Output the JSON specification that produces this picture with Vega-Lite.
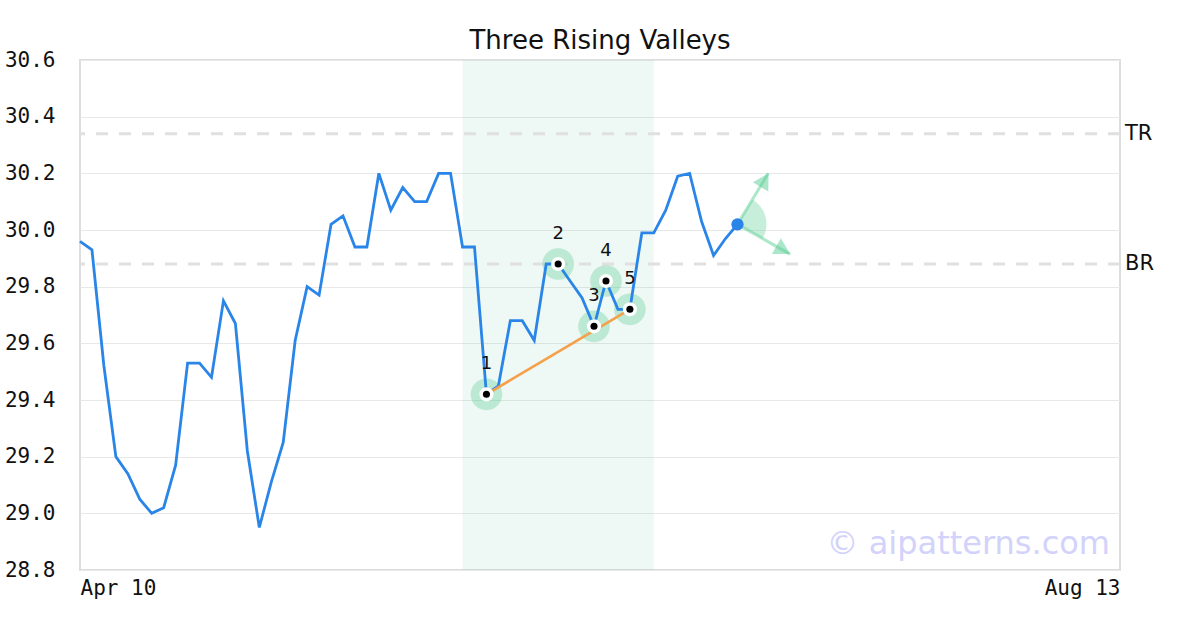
{
  "$schema": "https://vega.github.io/schema/vega-lite/v6.json",
  "width": 1040,
  "height": 510,
  "autosize": {"type": "none"},
  "padding": {"left": 80, "top": 60, "right": 80, "bottom": 60},
  "background": "white",
  "title": {"text": "Three Rising Valleys", "font": "DejaVu Sans", "fontSize": 26, "fontWeight": "normal", "color": "#111111", "anchor": "middle", "frame": "group", "offset": -5},
  "config": {
    "view": {"stroke": "#dddddd", "strokeWidth": 2},
    "axis": {"labelFont": "DejaVu Sans Mono", "labelFontSize": 21, "labelColor": "#111111", "domain": false, "ticks": false, "tickSize": 0, "title": null}
  },
  "datasets": {
    "price": [
      {"i": 0, "v": 29.96}, {"i": 1, "v": 29.93}, {"i": 2, "v": 29.52}, {"i": 3, "v": 29.20},
      {"i": 4, "v": 29.14}, {"i": 5, "v": 29.05}, {"i": 6, "v": 29.00}, {"i": 7, "v": 29.02},
      {"i": 8, "v": 29.17}, {"i": 9, "v": 29.53}, {"i": 10, "v": 29.53}, {"i": 11, "v": 29.48},
      {"i": 12, "v": 29.75}, {"i": 13, "v": 29.67}, {"i": 14, "v": 29.22}, {"i": 15, "v": 28.95},
      {"i": 16, "v": 29.11}, {"i": 17, "v": 29.25}, {"i": 18, "v": 29.61}, {"i": 19, "v": 29.80},
      {"i": 20, "v": 29.77}, {"i": 21, "v": 30.02}, {"i": 22, "v": 30.05}, {"i": 23, "v": 29.94},
      {"i": 24, "v": 29.94}, {"i": 25, "v": 30.20}, {"i": 26, "v": 30.07}, {"i": 27, "v": 30.15},
      {"i": 28, "v": 30.10}, {"i": 29, "v": 30.10}, {"i": 30, "v": 30.20}, {"i": 31, "v": 30.20},
      {"i": 32, "v": 29.94}, {"i": 33, "v": 29.94}, {"i": 34, "v": 29.42}, {"i": 35, "v": 29.45},
      {"i": 36, "v": 29.68}, {"i": 37, "v": 29.68}, {"i": 38, "v": 29.61}, {"i": 39, "v": 29.88},
      {"i": 40, "v": 29.88}, {"i": 41, "v": 29.82}, {"i": 42, "v": 29.76}, {"i": 43, "v": 29.66},
      {"i": 44, "v": 29.82}, {"i": 45, "v": 29.72}, {"i": 46, "v": 29.72}, {"i": 47, "v": 29.99},
      {"i": 48, "v": 29.99}, {"i": 49, "v": 30.07}, {"i": 50, "v": 30.19}, {"i": 51, "v": 30.20},
      {"i": 52, "v": 30.03}, {"i": 53, "v": 29.91}, {"i": 54, "v": 29.97}, {"i": 55, "v": 30.02}
    ],
    "pivots": [
      {"i": 34, "v": 29.42, "label": "1"},
      {"i": 40, "v": 29.88, "label": "2"},
      {"i": 43, "v": 29.66, "label": "3"},
      {"i": 44, "v": 29.82, "label": "4"},
      {"i": 46, "v": 29.72, "label": "5"}
    ],
    "trend": [{"i": 34, "v": 29.42}, {"i": 46, "v": 29.72}],
    "levels": [{"name": "TR", "v": 30.34, "xend": 87}, {"name": "BR", "v": 29.88, "xend": 87}],
    "zone": [{"start": 32, "end": 48}],
    "last": [{"i": 55, "v": 30.02}],
    "arrows": [
      {"i": 55, "v": 30.02, "i2": 57.57, "v2": 30.20, "hi": 57.25, "hv": 30.175, "ang": 31},
      {"i": 55, "v": 30.02, "i2": 59.4, "v2": 29.915, "hi": 58.8, "hv": 29.93, "ang": 119.5}
    ],
    "mark": [{"i": 87, "v": 28.8, "text": "© aipatterns.com"}]
  },
  "layer": [
    {
      "data": {"name": "zone"},
      "mark": {"type": "rect", "color": "#5cbf8f", "opacity": 0.1},
      "encoding": {
        "x": {"field": "start", "type": "quantitative", "scale": {"domain": [0, 87], "nice": false, "zero": false},
              "axis": {"values": [0, 87], "grid": false, "labelExpr": "datum.value == 0 ? 'Apr 10' : 'Aug 13'", "labelPadding": 7,
                       "labelAlign": {"condition": {"test": "datum.value == 0", "value": "left"}, "value": "right"}}},
        "x2": {"field": "end"}
      }
    },
    {
      "data": {"name": "levels"},
      "mark": {"type": "rule", "color": "#e0e0e0", "strokeWidth": 3, "strokeDash": [12, 11]},
      "encoding": {
        "y": {"field": "v", "type": "quantitative", "scale": {"domain": [28.8, 30.6], "nice": false, "zero": false},
              "axis": {"values": [28.8, 29.0, 29.2, 29.4, 29.6, 29.8, 30.0, 30.2, 30.4, 30.6], "format": ".1f", "grid": true, "gridColor": "#e8e8e8", "gridWidth": 1, "labelPadding": 25}}
      }
    },
    {
      "data": {"name": "levels"},
      "mark": {"type": "text", "align": "left", "baseline": "middle", "dx": 5, "font": "DejaVu Sans", "fontSize": 21, "color": "#111111"},
      "encoding": {
        "x": {"field": "xend", "type": "quantitative"},
        "y": {"field": "v", "type": "quantitative"},
        "text": {"field": "name"}
      }
    },
    {
      "data": {"name": "pivots"},
      "mark": {"type": "point", "shape": "circle", "filled": true, "color": "#5ccf96", "opacity": 0.35, "size": 1000},
      "encoding": {
        "x": {"field": "i", "type": "quantitative"},
        "y": {"field": "v", "type": "quantitative"}
      }
    },
    {
      "data": {"name": "price"},
      "mark": {"type": "line", "color": "#2a85e8", "strokeWidth": 2.8},
      "encoding": {
        "x": {"field": "i", "type": "quantitative"},
        "y": {"field": "v", "type": "quantitative"}
      }
    },
    {
      "data": {"name": "trend"},
      "mark": {"type": "line", "color": "#f5a04a", "strokeWidth": 2.6},
      "encoding": {
        "x": {"field": "i", "type": "quantitative"},
        "y": {"field": "v", "type": "quantitative"}
      }
    },
    {
      "data": {"name": "pivots"},
      "mark": {"type": "point", "shape": "circle", "filled": true, "color": "white", "opacity": 1, "size": 200},
      "encoding": {
        "x": {"field": "i", "type": "quantitative"},
        "y": {"field": "v", "type": "quantitative"}
      }
    },
    {
      "data": {"name": "pivots"},
      "mark": {"type": "point", "shape": "circle", "filled": true, "color": "black", "opacity": 1, "size": 50},
      "encoding": {
        "x": {"field": "i", "type": "quantitative"},
        "y": {"field": "v", "type": "quantitative"}
      }
    },
    {
      "data": {"name": "pivots"},
      "mark": {"type": "text", "baseline": "middle", "align": "center", "dy": -30, "font": "DejaVu Sans", "fontSize": 18, "color": "#111111"},
      "encoding": {
        "x": {"field": "i", "type": "quantitative"},
        "y": {"field": "v", "type": "quantitative"},
        "text": {"field": "label"}
      }
    },
    {
      "data": {"name": "last"},
      "mark": {"type": "arc", "theta": 0.546, "theta2": 2.086, "outerRadius": 29, "innerRadius": 0, "color": "#5ccf96", "opacity": 0.35},
      "encoding": {
        "x": {"field": "i", "type": "quantitative"},
        "y": {"field": "v", "type": "quantitative"}
      }
    },
    {
      "data": {"name": "arrows"},
      "mark": {"type": "rule", "color": "#5ccf96", "opacity": 0.5, "strokeWidth": 3},
      "encoding": {
        "x": {"field": "i", "type": "quantitative"},
        "y": {"field": "v", "type": "quantitative"},
        "x2": {"field": "i2"},
        "y2": {"field": "v2"}
      }
    },
    {
      "data": {"name": "arrows"},
      "mark": {"type": "point", "shape": "triangle-up", "filled": true, "color": "#5ccf96", "opacity": 0.5, "size": 240, "stroke": "#5ccf96", "strokeWidth": 1.5},
      "encoding": {
        "x": {"field": "hi", "type": "quantitative"},
        "y": {"field": "hv", "type": "quantitative"},
        "angle": {"field": "ang", "type": "quantitative", "scale": null}
      }
    },
    {
      "data": {"name": "last"},
      "mark": {"type": "point", "shape": "circle", "filled": true, "color": "#2a85e8", "opacity": 1, "size": 150},
      "encoding": {
        "x": {"field": "i", "type": "quantitative"},
        "y": {"field": "v", "type": "quantitative"}
      }
    },
    {
      "data": {"name": "mark"},
      "mark": {"type": "text", "align": "right", "baseline": "alphabetic", "dx": -10, "dy": -16, "font": "DejaVu Sans", "fontSize": 32, "color": "#d2d2fb"},
      "encoding": {
        "x": {"field": "i", "type": "quantitative"},
        "y": {"field": "v", "type": "quantitative"},
        "text": {"field": "text"}
      }
    }
  ]
}
